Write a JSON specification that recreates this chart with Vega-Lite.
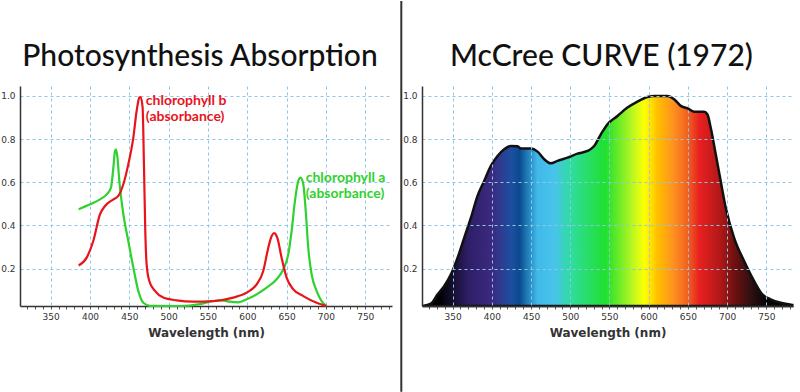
{
  "$schema": "https://vega.github.io/schema/vega-lite/v6.json",
  "padding": {"left": 0, "top": 0, "right": 7, "bottom": 1},
  "background": "white",
  "spacing": 9,
  "bounds": "flush",
  "datasets": {
    "chl": [
      {"pigment": "chlorophyll a", "wl": 385.6, "abs": 0.475},
      {"pigment": "chlorophyll a", "wl": 400, "abs": 0.498},
      {"pigment": "chlorophyll a", "wl": 412.7, "abs": 0.521},
      {"pigment": "chlorophyll a", "wl": 421.2, "abs": 0.544},
      {"pigment": "chlorophyll a", "wl": 426.7, "abs": 0.575},
      {"pigment": "chlorophyll a", "wl": 429.7, "abs": 0.668},
      {"pigment": "chlorophyll a", "wl": 431.8, "abs": 0.745},
      {"pigment": "chlorophyll a", "wl": 433, "abs": 0.753},
      {"pigment": "chlorophyll a", "wl": 434.7, "abs": 0.722},
      {"pigment": "chlorophyll a", "wl": 437.3, "abs": 0.606},
      {"pigment": "chlorophyll a", "wl": 442.4, "abs": 0.452},
      {"pigment": "chlorophyll a", "wl": 448.7, "abs": 0.328},
      {"pigment": "chlorophyll a", "wl": 455.1, "abs": 0.205},
      {"pigment": "chlorophyll a", "wl": 461.4, "abs": 0.097},
      {"pigment": "chlorophyll a", "wl": 467.8, "abs": 0.042},
      {"pigment": "chlorophyll a", "wl": 476.3, "abs": 0.028},
      {"pigment": "chlorophyll a", "wl": 514.4, "abs": 0.027},
      {"pigment": "chlorophyll a", "wl": 539.8, "abs": 0.036},
      {"pigment": "chlorophyll a", "wl": 556.8, "abs": 0.05},
      {"pigment": "chlorophyll a", "wl": 567.4, "abs": 0.053},
      {"pigment": "chlorophyll a", "wl": 578, "abs": 0.047},
      {"pigment": "chlorophyll a", "wl": 588.6, "abs": 0.044},
      {"pigment": "chlorophyll a", "wl": 599.2, "abs": 0.058},
      {"pigment": "chlorophyll a", "wl": 611.9, "abs": 0.081},
      {"pigment": "chlorophyll a", "wl": 624.6, "abs": 0.112},
      {"pigment": "chlorophyll a", "wl": 637.3, "abs": 0.151},
      {"pigment": "chlorophyll a", "wl": 645.8, "abs": 0.197},
      {"pigment": "chlorophyll a", "wl": 652.1, "abs": 0.266},
      {"pigment": "chlorophyll a", "wl": 656.4, "abs": 0.375},
      {"pigment": "chlorophyll a", "wl": 660.6, "abs": 0.514},
      {"pigment": "chlorophyll a", "wl": 664.8, "abs": 0.606},
      {"pigment": "chlorophyll a", "wl": 667.8, "abs": 0.622},
      {"pigment": "chlorophyll a", "wl": 671.2, "abs": 0.591},
      {"pigment": "chlorophyll a", "wl": 674.6, "abs": 0.452},
      {"pigment": "chlorophyll a", "wl": 677.5, "abs": 0.297},
      {"pigment": "chlorophyll a", "wl": 681.8, "abs": 0.174},
      {"pigment": "chlorophyll a", "wl": 688.1, "abs": 0.097},
      {"pigment": "chlorophyll a", "wl": 694.5, "abs": 0.05},
      {"pigment": "chlorophyll a", "wl": 700.8, "abs": 0.027},
      {"pigment": "chlorophyll b", "wl": 385.6, "abs": 0.215},
      {"pigment": "chlorophyll b", "wl": 395.8, "abs": 0.251},
      {"pigment": "chlorophyll b", "wl": 404.2, "abs": 0.328},
      {"pigment": "chlorophyll b", "wl": 412.7, "abs": 0.452},
      {"pigment": "chlorophyll b", "wl": 419.1, "abs": 0.49},
      {"pigment": "chlorophyll b", "wl": 429.7, "abs": 0.521},
      {"pigment": "chlorophyll b", "wl": 436, "abs": 0.537},
      {"pigment": "chlorophyll b", "wl": 442.4, "abs": 0.591},
      {"pigment": "chlorophyll b", "wl": 448.7, "abs": 0.683},
      {"pigment": "chlorophyll b", "wl": 455.1, "abs": 0.807},
      {"pigment": "chlorophyll b", "wl": 459.3, "abs": 0.93},
      {"pigment": "chlorophyll b", "wl": 462.7, "abs": 0.992},
      {"pigment": "chlorophyll b", "wl": 464.4, "abs": 0.995},
      {"pigment": "chlorophyll b", "wl": 466.9, "abs": 0.946},
      {"pigment": "chlorophyll b", "wl": 468.6, "abs": 0.683},
      {"pigment": "chlorophyll b", "wl": 470.3, "abs": 0.375},
      {"pigment": "chlorophyll b", "wl": 472, "abs": 0.22},
      {"pigment": "chlorophyll b", "wl": 475.4, "abs": 0.143},
      {"pigment": "chlorophyll b", "wl": 482.6, "abs": 0.097},
      {"pigment": "chlorophyll b", "wl": 493.2, "abs": 0.066},
      {"pigment": "chlorophyll b", "wl": 510.2, "abs": 0.053},
      {"pigment": "chlorophyll b", "wl": 531.4, "abs": 0.047},
      {"pigment": "chlorophyll b", "wl": 556.8, "abs": 0.05},
      {"pigment": "chlorophyll b", "wl": 582.2, "abs": 0.066},
      {"pigment": "chlorophyll b", "wl": 599.2, "abs": 0.089},
      {"pigment": "chlorophyll b", "wl": 611.9, "abs": 0.127},
      {"pigment": "chlorophyll b", "wl": 620.3, "abs": 0.189},
      {"pigment": "chlorophyll b", "wl": 626.7, "abs": 0.297},
      {"pigment": "chlorophyll b", "wl": 631, "abs": 0.351},
      {"pigment": "chlorophyll b", "wl": 634, "abs": 0.365},
      {"pigment": "chlorophyll b", "wl": 638.1, "abs": 0.344},
      {"pigment": "chlorophyll b", "wl": 643.6, "abs": 0.251},
      {"pigment": "chlorophyll b", "wl": 650, "abs": 0.158},
      {"pigment": "chlorophyll b", "wl": 658.5, "abs": 0.104},
      {"pigment": "chlorophyll b", "wl": 671.2, "abs": 0.073},
      {"pigment": "chlorophyll b", "wl": 688.1, "abs": 0.042},
      {"pigment": "chlorophyll b", "wl": 700.8, "abs": 0.027}
    ],
    "mccree": [
      {"wl": 311.8, "rel": 0.027},
      {"wl": 322.4, "rel": 0.038},
      {"wl": 330.9, "rel": 0.081},
      {"wl": 339.4, "rel": 0.12},
      {"wl": 347.9, "rel": 0.174},
      {"wl": 356.4, "rel": 0.251},
      {"wl": 364.9, "rel": 0.344},
      {"wl": 373.4, "rel": 0.436},
      {"wl": 381.8, "rel": 0.537},
      {"wl": 390.3, "rel": 0.606},
      {"wl": 398.8, "rel": 0.676},
      {"wl": 407.3, "rel": 0.722},
      {"wl": 415.8, "rel": 0.753},
      {"wl": 424.3, "rel": 0.768},
      {"wl": 432.8, "rel": 0.767},
      {"wl": 437, "rel": 0.756},
      {"wl": 449.8, "rel": 0.756},
      {"wl": 458.3, "rel": 0.742},
      {"wl": 466.8, "rel": 0.707},
      {"wl": 475.3, "rel": 0.688},
      {"wl": 483.8, "rel": 0.699},
      {"wl": 496.5, "rel": 0.714},
      {"wl": 509.2, "rel": 0.733},
      {"wl": 522, "rel": 0.745},
      {"wl": 530.5, "rel": 0.768},
      {"wl": 539, "rel": 0.822},
      {"wl": 547.5, "rel": 0.869},
      {"wl": 560.2, "rel": 0.907},
      {"wl": 572.9, "rel": 0.946},
      {"wl": 585.7, "rel": 0.974},
      {"wl": 598.4, "rel": 0.995},
      {"wl": 606.9, "rel": 1.0},
      {"wl": 623.9, "rel": 1.0},
      {"wl": 632.4, "rel": 0.985},
      {"wl": 640.9, "rel": 0.954},
      {"wl": 649.4, "rel": 0.943},
      {"wl": 657.9, "rel": 0.927},
      {"wl": 670.6, "rel": 0.927},
      {"wl": 674.8, "rel": 0.915},
      {"wl": 679.1, "rel": 0.853},
      {"wl": 685.5, "rel": 0.73},
      {"wl": 691.8, "rel": 0.606},
      {"wl": 698.2, "rel": 0.483},
      {"wl": 708.8, "rel": 0.344},
      {"wl": 721.5, "rel": 0.236},
      {"wl": 734.3, "rel": 0.143},
      {"wl": 744.9, "rel": 0.081},
      {"wl": 755.5, "rel": 0.058},
      {"wl": 768.3, "rel": 0.042},
      {"wl": 783.1, "rel": 0.032}
    ]
  },
  "config": {
    "view": {"stroke": null},
    "axis": {
      "domainColor": "#333",
      "domainWidth": 1.5,
      "gridColor": "#8cc8e6",
      "gridDash": [3, 3],
      "gridWidth": 1,
      "labelFont": "DejaVu Sans",
      "labelFontSize": 9,
      "labelColor": "#333",
      "tickColor": "#555",
      "titleFont": "DejaVu Sans",
      "titleFontWeight": "bold",
      "titleFontSize": 12,
      "titleColor": "#333",
      "labelOverlap": false,
      "labelFlush": false
    },
    "title": {
      "font": "Lato",
      "fontSize": 30,
      "fontWeight": 500,
      "color": "#111",
      "anchor": "middle",
      "baseline": "alphabetic",
      "offset": 14,
      "dx": -6
    }
  },
  "hconcat": [
    {
      "width": 372,
      "height": 220,
      "title": "Photosynthesis Absorption",
      "layer": [
        {
          "data": {"name": "chl"},
          "mark": {"type": "line", "interpolate": "monotone", "strokeWidth": 2.2},
          "encoding": {
            "x": {
              "field": "wl", "type": "quantitative",
              "scale": {"domain": [311, 784], "nice": false, "zero": false},
              "axis": {
                "title": "Wavelength (nm)",
                "values": [320,330,340,350,360,370,380,390,400,410,420,430,440,450,460,470,480,490,500,510,520,530,540,550,560,570,580,590,600,610,620,630,640,650,660,670,680,690,700,710,720,730,740,750,760,770,780],
                "labelExpr": "datum.value % 50 === 0 ? datum.label : ''",
                "gridOpacity": {"condition": {"test": "datum.value % 50 === 0", "value": 1}, "value": 0},
                "labelOverlap": false,
                "labelFlush": false,
                "tickSize": 3,
                "labelPadding": 3,
                "titlePadding": 6
              }
            },
            "y": {
              "field": "abs", "type": "quantitative",
              "scale": {"domain": [0.027, 1.046], "nice": false, "zero": false},
              "axis": {"title": null, "values": [0.2, 0.4, 0.6, 0.8, 1.0], "format": ".1f", "ticks": false, "labelPadding": 5, "labelOverlap": false}
            },
            "color": {
              "field": "pigment", "type": "nominal",
              "scale": {"domain": ["chlorophyll a", "chlorophyll b"], "range": ["#2fd12f", "#e8141c"]},
              "legend": null
            }
          }
        },
        {
          "data": {"values": [{}]},
          "mark": {"type": "text", "align": "left", "baseline": "alphabetic", "font": "Lato", "fontWeight": "bold", "fontSize": 14, "lineHeight": 16, "color": "#e8141c"},
          "encoding": {
            "x": {
              "datum": 471, "type": "quantitative",
              "axis": {
                "title": "Wavelength (nm)",
                "values": [320,330,340,350,360,370,380,390,400,410,420,430,440,450,460,470,480,490,500,510,520,530,540,550,560,570,580,590,600,610,620,630,640,650,660,670,680,690,700,710,720,730,740,750,760,770,780],
                "labelExpr": "datum.value % 50 === 0 ? datum.label : ''",
                "gridOpacity": {"condition": {"test": "datum.value % 50 === 0", "value": 1}, "value": 0},
                "labelOverlap": false,
                "labelFlush": false,
                "tickSize": 3,
                "labelPadding": 3,
                "titlePadding": 6
              }
            },
            "y": {
              "datum": 0.958, "type": "quantitative",
              "axis": {"title": null, "values": [0.2, 0.4, 0.6, 0.8, 1.0], "format": ".1f", "ticks": false, "labelPadding": 5, "labelOverlap": false}
            },
            "text": {"value": ["chlorophyll b", "(absorbance)"]}
          }
        },
        {
          "data": {"values": [{}]},
          "mark": {"type": "text", "align": "left", "baseline": "alphabetic", "font": "Lato", "fontWeight": "bold", "fontSize": 14, "lineHeight": 16, "color": "#2fd12f"},
          "encoding": {
            "x": {
              "datum": 674.3, "type": "quantitative",
              "axis": {
                "title": "Wavelength (nm)",
                "values": [320,330,340,350,360,370,380,390,400,410,420,430,440,450,460,470,480,490,500,510,520,530,540,550,560,570,580,590,600,610,620,630,640,650,660,670,680,690,700,710,720,730,740,750,760,770,780],
                "labelExpr": "datum.value % 50 === 0 ? datum.label : ''",
                "gridOpacity": {"condition": {"test": "datum.value % 50 === 0", "value": 1}, "value": 0},
                "labelOverlap": false,
                "labelFlush": false,
                "tickSize": 3,
                "labelPadding": 3,
                "titlePadding": 6
              }
            },
            "y": {
              "datum": 0.601, "type": "quantitative",
              "axis": {"title": null, "values": [0.2, 0.4, 0.6, 0.8, 1.0], "format": ".1f", "ticks": false, "labelPadding": 5, "labelOverlap": false}
            },
            "text": {"value": ["chlorophyll a", "(absorbance)"]}
          }
        }
      ]
    },
    {
      "width": 12,
      "height": 220,
      "data": {"values": [{}]},
      "mark": {"type": "rule", "color": "#333", "strokeWidth": 2},
      "encoding": {
        "x": {"datum": 0.3, "type": "quantitative", "scale": {"domain": [0, 12], "nice": false, "zero": false}, "axis": null},
        "y": {"datum": 1.4397, "type": "quantitative", "scale": {"domain": [0.027, 1.046], "nice": false, "zero": false}, "axis": null},
        "y2": {"datum": -0.37}
      }
    },
    {
      "width": 371,
      "height": 220,
      "title": "McCree CURVE (1972)",
      "data": {"name": "mccree"},
      "mark": {
        "type": "area",
        "interpolate": "monotone",
        "stroke": "#111",
        "strokeWidth": 2.5,
        "fill": {
          "gradient": "linear", "x1": 0, "x2": 1, "y1": 0, "y2": 0,
          "stops": [
            {"offset": 0, "color": "#000000"},
            {"offset": 0.045, "color": "#000000"},
            {"offset": 0.081, "color": "#150f2e"},
            {"offset": 0.123, "color": "#2e1e66"},
            {"offset": 0.187, "color": "#3c2a80"},
            {"offset": 0.24, "color": "#1d4fa0"},
            {"offset": 0.262, "color": "#0a4a90"},
            {"offset": 0.31, "color": "#40b8e8"},
            {"offset": 0.357, "color": "#48c4ec"},
            {"offset": 0.399, "color": "#30dca0"},
            {"offset": 0.495, "color": "#20e030"},
            {"offset": 0.571, "color": "#c0f820"},
            {"offset": 0.601, "color": "#ffff00"},
            {"offset": 0.635, "color": "#ffc000"},
            {"offset": 0.679, "color": "#ff9020"},
            {"offset": 0.718, "color": "#f06020"},
            {"offset": 0.749, "color": "#e82020"},
            {"offset": 0.806, "color": "#b01818"},
            {"offset": 0.843, "color": "#701010"},
            {"offset": 0.887, "color": "#301010"},
            {"offset": 0.93, "color": "#080404"},
            {"offset": 1, "color": "#000000"}
          ]
        }
      },
      "encoding": {
        "x": {
          "field": "wl", "type": "quantitative",
          "scale": {"domain": [311, 784], "nice": false, "zero": false},
          "axis": {
            "title": "Wavelength (nm)",
            "zindex": 1,
            "values": [320,330,340,350,360,370,380,390,400,410,420,430,440,450,460,470,480,490,500,510,520,530,540,550,560,570,580,590,600,610,620,630,640,650,660,670,680,690,700,710,720,730,740,750,760,770,780],
            "labelExpr": "datum.value % 50 === 0 ? datum.label : ''",
            "gridOpacity": {"condition": {"test": "datum.value % 50 === 0", "value": 1}, "value": 0},
            "labelOverlap": false,
            "labelFlush": false,
            "tickSize": 3,
            "labelPadding": 3,
            "titlePadding": 6
          }
        },
        "y": {
          "field": "rel", "type": "quantitative",
          "scale": {"domain": [0.027, 1.046], "nice": false, "zero": false},
          "axis": {"title": null, "zindex": 1, "values": [0.2, 0.4, 0.6, 0.8, 1.0], "format": ".1f", "ticks": false, "labelPadding": 5, "labelOverlap": false}
        },
        "y2": {"datum": 0.027}
      }
    }
  ]
}
